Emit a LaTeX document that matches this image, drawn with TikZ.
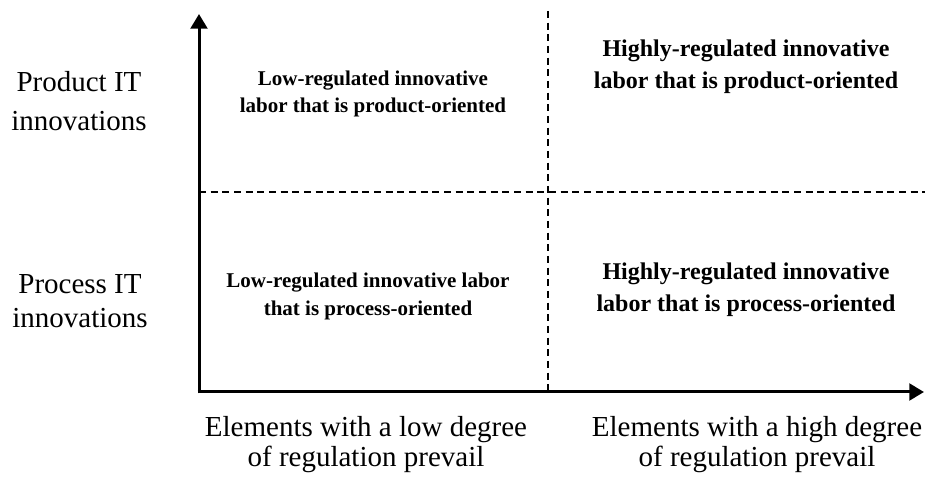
\documentclass[tikz,border=0pt]{standalone}
\usepackage{fontspec}
\setmainfont{Liberation Serif}
\usetikzlibrary{arrows.meta}
\tikzset{every path/.style={black}, every node/.style={inner sep=0pt}}
\tikzset{axis/.style={line width=2.25pt,-{Triangle[length=11pt,width=12.5pt]}},
         divider/.style={line width=1.2pt,dash pattern=on 5.25pt off 3.5pt},
         axislabel/.style={align=center,font=\fontsize{21.75pt}{22.5pt}\selectfont},
         lowcell/.style={align=center,font=\fontsize{15.75pt}{20.5pt}\selectfont\bfseries},
         highcell/.style={align=center,font=\fontsize{18pt}{24pt}\selectfont\bfseries}}

\begin{document}
\begin{tikzpicture}[x=0.75pt,y=-0.75pt]
  \useasboundingbox (0,0) rectangle (925,484);
  % axes
  \coordinate (origin) at (199,392);
  \coordinate (ytip) at (199,14);
  \coordinate (xtip) at (924,392);
  \coordinate (vtop) at (548,11);
  \coordinate (vbot) at (548,392);
  \coordinate (hleft) at (199,192);
  \coordinate (hright) at (925,192);
  \draw[divider] (vtop) -- (vbot);
  \draw[divider] (hleft) -- (hright);
  \draw[axis] ([yshift=-1.1pt]origin) -- (ytip);
  \draw[axis] ([xshift=-1.1pt]origin) -- (xtip);
  % labels on the axes
  \node[axislabel] (product) at (79,101) {Product IT\\[7pt]innovations};
  \node[axislabel] (process) at (80,301) {Process IT\\[2.5pt]innovations};
  \node[axislabel] (lowdeg) at (366,445) {Elements with a low degree\\of regulation prevail};
  \node[axislabel] (highdeg) at (757,445) {Elements with a high degree\\of regulation prevail};
  % the four cells
  \node[lowcell] (lowprod) at (373,94) {Low-regulated innovative\\labor that is product-oriented};
  \node[highcell] (highprod) at (746,66.5) {Highly-regulated innovative\\labor that is product-oriented};
  \node[lowcell] (lowproc) at (368,296.5) {Low-regulated innovative labor\\that is process-oriented};
  \node[highcell] (highproc) at (746,290) {Highly-regulated innovative\\labor that is process-oriented};
\end{tikzpicture}
\end{document}
